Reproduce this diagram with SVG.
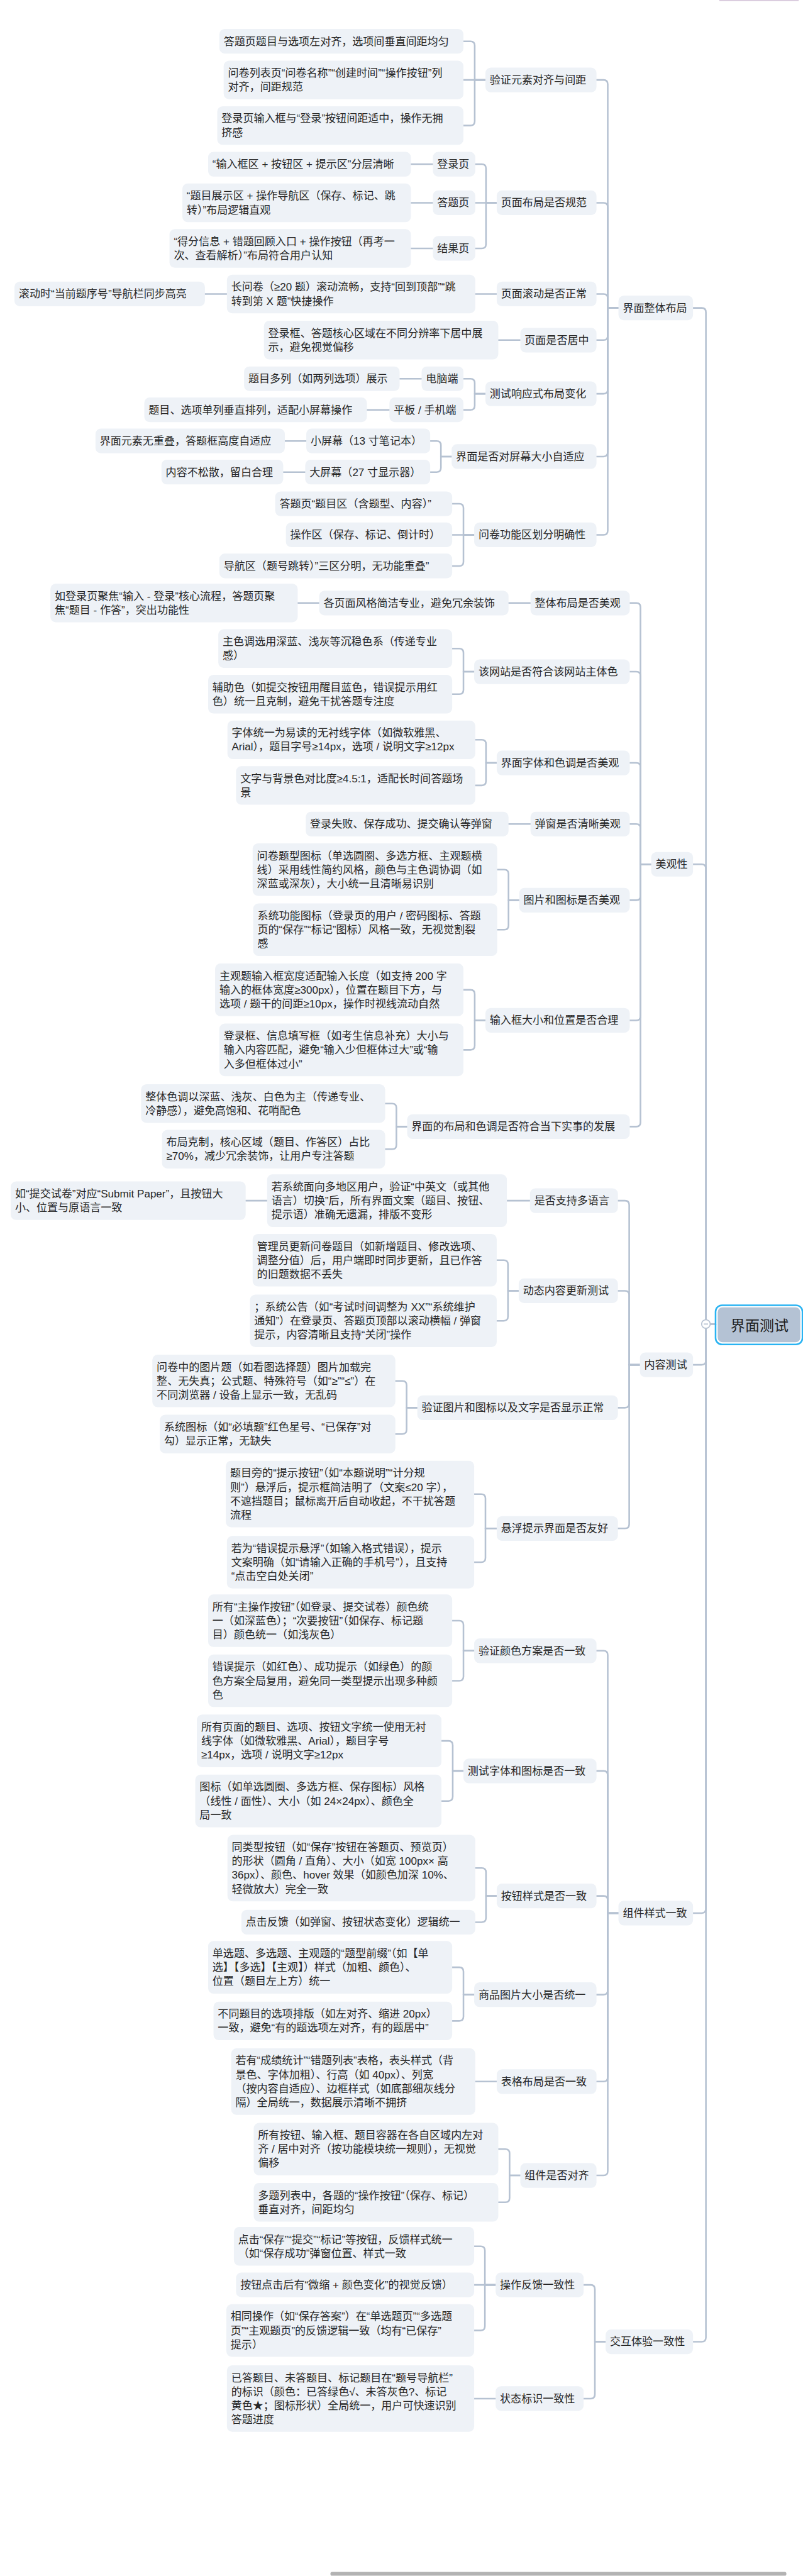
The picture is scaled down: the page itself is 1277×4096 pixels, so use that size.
<svg xmlns="http://www.w3.org/2000/svg" width="1277" height="4096" viewBox="0 0 1277 4096">
<defs>
<style>
.box{fill:#eef2f7}
.t{font-family:"Liberation Sans","Noto Sans CJK SC",sans-serif;font-size:20px;fill:#262626}
.lk path{fill:none;stroke:#b6c2d2;stroke-width:3;stroke-linejoin:round;stroke-linecap:round}
.rt{font-family:"Liberation Sans","Noto Sans CJK SC",sans-serif;font-size:27px;fill:#1f1f1f;text-anchor:middle}
</style>
</defs>
<rect width="1277" height="4096" fill="#ffffff"/>
<g transform="scale(0.85304)">
<g id="connectors" class="lk">
<path d="M1334 2468 H1316 V582 Q1316 574 1308 574 H1292"/>
<path d="M1334 2468 H1316 V1619 Q1316 1611 1308 1611 H1292"/>
<path d="M1334 2468 H1316 V2536 Q1316 2544 1308 2544 H1292"/>
<path d="M1334 2468 H1316 V3558 Q1316 3566 1308 3566 H1292"/>
<path d="M1334 2468 H1316 V4357 Q1316 4365 1308 4365 H1292"/>
<path d="M1153 574 H1133 V157 Q1133 149 1125 149 H1112"/>
<path d="M1153 574 H1133 V386 Q1133 378 1125 378 H1112"/>
<path d="M1153 574 H1133 V556 Q1133 548 1125 548 H1112"/>
<path d="M1153 574 H1133 V626 Q1133 634 1125 634 H1112"/>
<path d="M1153 574 H1133 V726 Q1133 734 1125 734 H1112"/>
<path d="M1153 574 H1133 V843 Q1133 851 1125 851 H1112"/>
<path d="M1153 574 H1133 V989 Q1133 997 1125 997 H1112"/>
<path d="M905 149 H885 V85 Q885 77 877 77 H864"/>
<path d="M905 149 H864"/>
<path d="M905 149 H885 V226 Q885 234 877 234 H864"/>
<path d="M926 378 H906 V314 Q906 306 898 306 H886"/>
<path d="M926 378 H886"/>
<path d="M926 378 H906 V455 Q906 463 898 463 H886"/>
<path d="M807 306 H766"/>
<path d="M807 378 H766"/>
<path d="M807 463 H766"/>
<path d="M926 548 H886"/>
<path d="M423 548 H382"/>
<path d="M970 634 H929"/>
<path d="M905 734 H885 V714 Q885 706 877 706 H864"/>
<path d="M905 734 H885 V756 Q885 764 877 764 H864"/>
<path d="M786 706 H745"/>
<path d="M726 764 H684"/>
<path d="M842 851 H822 V830 Q822 822 814 822 H802"/>
<path d="M842 851 H822 V872 Q822 880 814 880 H802"/>
<path d="M571 822 H531"/>
<path d="M569 880 H528"/>
<path d="M884 997 H864 V947 Q864 939 856 939 H843"/>
<path d="M884 997 H843"/>
<path d="M884 997 H864 V1047 Q864 1055 856 1055 H843"/>
<path d="M1214 1611 H1194 V1132 Q1194 1124 1186 1124 H1174"/>
<path d="M1214 1611 H1194 V1260 Q1194 1252 1186 1252 H1174"/>
<path d="M1214 1611 H1194 V1430 Q1194 1422 1186 1422 H1174"/>
<path d="M1214 1611 H1194 V1544 Q1194 1536 1186 1536 H1174"/>
<path d="M1214 1611 H1194 V1670 Q1194 1678 1186 1678 H1174"/>
<path d="M1214 1611 H1194 V1894 Q1194 1902 1186 1902 H1174"/>
<path d="M1214 1611 H1194 V2092 Q1194 2100 1186 2100 H1174"/>
<path d="M989 1124 H948"/>
<path d="M595 1124 H555"/>
<path d="M884 1252 H864 V1217 Q864 1209 856 1209 H843"/>
<path d="M884 1252 H864 V1286 Q864 1294 856 1294 H843"/>
<path d="M926 1422 H906 V1387 Q906 1379 898 1379 H886"/>
<path d="M926 1422 H906 V1456 Q906 1464 898 1464 H886"/>
<path d="M989 1536 H948"/>
<path d="M968 1678 H948 V1629 Q948 1621 940 1621 H927"/>
<path d="M968 1678 H948 V1725 Q948 1733 940 1733 H927"/>
<path d="M905 1902 H885 V1853 Q885 1845 877 1845 H864"/>
<path d="M905 1902 H885 V1949 Q885 1957 877 1957 H864"/>
<path d="M759 2100 H739 V2065 Q739 2057 731 2057 H718"/>
<path d="M759 2100 H739 V2134 Q739 2142 731 2142 H718"/>
<path d="M1193 2544 H1173 V2246 Q1173 2238 1165 2238 H1152"/>
<path d="M1193 2544 H1173 V2414 Q1173 2406 1165 2406 H1152"/>
<path d="M1193 2544 H1173 V2616 Q1173 2624 1165 2624 H1152"/>
<path d="M1193 2544 H1173 V2841 Q1173 2849 1165 2849 H1152"/>
<path d="M988 2238 H945"/>
<path d="M498 2238 H458"/>
<path d="M967 2406 H947 V2357 Q947 2349 939 2349 H926"/>
<path d="M967 2406 H947 V2454 Q947 2462 939 2462 H926"/>
<path d="M778 2624 H758 V2582 Q758 2574 750 2574 H737"/>
<path d="M778 2624 H758 V2665 Q758 2673 750 2673 H737"/>
<path d="M926 2849 H905 V2793 Q905 2785 897 2785 H884"/>
<path d="M926 2849 H905 V2904 Q905 2912 897 2912 H884"/>
<path d="M1153 3566 H1133 V3085 Q1133 3077 1125 3077 H1112"/>
<path d="M1153 3566 H1133 V3309 Q1133 3301 1125 3301 H1112"/>
<path d="M1153 3566 H1133 V3542 Q1133 3534 1125 3534 H1112"/>
<path d="M1153 3566 H1133 V3710 Q1133 3718 1125 3718 H1112"/>
<path d="M1153 3566 H1133 V3872 Q1133 3880 1125 3880 H1112"/>
<path d="M1153 3566 H1133 V4047 Q1133 4055 1125 4055 H1112"/>
<path d="M884 3077 H864 V3029 Q864 3021 856 3021 H843"/>
<path d="M884 3077 H864 V3125 Q864 3133 856 3133 H843"/>
<path d="M864 3301 H844 V3253 Q844 3245 836 3245 H823"/>
<path d="M864 3301 H844 V3349 Q844 3357 836 3357 H823"/>
<path d="M926 3534 H906 V3490 Q906 3482 898 3482 H886"/>
<path d="M926 3534 H906 V3575 Q906 3583 898 3583 H886"/>
<path d="M884 3718 H864 V3675 Q864 3667 856 3667 H843"/>
<path d="M884 3718 H864 V3759 Q864 3767 856 3767 H843"/>
<path d="M926 3880 H886"/>
<path d="M970 4055 H950 V4014 Q950 4006 942 4006 H929"/>
<path d="M970 4055 H950 V4097 Q950 4105 942 4105 H929"/>
<path d="M1129 4365 H1109 V4267 Q1109 4259 1101 4259 H1088"/>
<path d="M1129 4365 H1109 V4463 Q1109 4471 1101 4471 H1088"/>
<path d="M924 4259 H904 V4195 Q904 4187 896 4187 H884"/>
<path d="M924 4259 H884"/>
<path d="M924 4259 H904 V4336 Q904 4344 896 4344 H884"/>
<path d="M924 4471 H884"/>
</g>
<g id="collapse">
<circle cx="1316" cy="2468" r="8" fill="#ffffff" stroke="#b6c2d2" stroke-width="2"/>
<path d="M1312 2468 H1320" stroke="#b6c2d2" stroke-width="2"/>
</g>
<g id="nodes">
<g id="root"><rect x="1334" y="2433" width="162" height="73" rx="12" fill="none" stroke="#29b3f2" stroke-width="3"/><rect x="1338" y="2437" width="154" height="65" rx="9" fill="#b4c2d4"/><text class="rt" x="1416" y="2480">界面测试</text></g>

<g id="n-layout"><rect class="box" x="1153" y="551" width="139" height="46" rx="10"/><text class="t" x="1161" y="581">界面整体布局</text></g>
<g id="n-beauty"><rect class="box" x="1214" y="1588" width="78" height="46" rx="10"/><text class="t" x="1222" y="1618">美观性</text></g>
<g id="n-content"><rect class="box" x="1193" y="2521" width="99" height="46" rx="10"/><text class="t" x="1201" y="2551">内容测试</text></g>
<g id="n-comp"><rect class="box" x="1153" y="3543" width="139" height="46" rx="10"/><text class="t" x="1161" y="3573">组件样式一致</text></g>
<g id="n-inter"><rect class="box" x="1129" y="4342" width="163" height="46" rx="10"/><text class="t" x="1137" y="4372">交互体验一致性</text></g>

<g id="n-a"><rect class="box" x="905" y="126" width="207" height="46" rx="10"/><text class="t" x="913" y="156">验证元素对齐与间距</text></g>
<g id="n-a1"><rect class="box" x="409" y="54" width="455" height="46" rx="10"/><text class="t" x="417" y="84">答题页题目与选项左对齐，选项间垂直间距均匀</text></g>
<g id="n-a2"><rect class="box" x="417" y="113" width="447" height="72" rx="10"/><text class="t"><tspan x="425" y="143">问卷列表页“问卷名称”“创建时间”“操作按钮”列</tspan><tspan x="425" y="169">对齐，间距规范</tspan></text></g>
<g id="n-a3"><rect class="box" x="405" y="198" width="459" height="72" rx="10"/><text class="t"><tspan x="413" y="228">登录页输入框与“登录”按钮间距适中，操作无拥</tspan><tspan x="413" y="254">挤感</tspan></text></g>

<g id="n-b"><rect class="box" x="926" y="355" width="186" height="46" rx="10"/><text class="t" x="934" y="385">页面布局是否规范</text></g>
<g id="n-b1"><rect class="box" x="807" y="283" width="79" height="46" rx="10"/><text class="t" x="815" y="313">登录页</text></g>
<g id="n-b2"><rect class="box" x="807" y="355" width="79" height="46" rx="10"/><text class="t" x="815" y="385">答题页</text></g>
<g id="n-b3"><rect class="box" x="807" y="440" width="79" height="46" rx="10"/><text class="t" x="815" y="470">结果页</text></g>
<g id="n-b1a"><rect class="box" x="388" y="283" width="378" height="46" rx="10"/><text class="t" x="396" y="313">“输入框区 + 按钮区 + 提示区”分层清晰</text></g>
<g id="n-b2a"><rect class="box" x="340" y="342" width="426" height="72" rx="10"/><text class="t"><tspan x="348" y="372">“题目展示区 + 操作导航区（保存、标记、跳</tspan><tspan x="348" y="398">转）”布局逻辑直观</tspan></text></g>
<g id="n-b3a"><rect class="box" x="316" y="427" width="450" height="72" rx="10"/><text class="t"><tspan x="324" y="457">“得分信息 + 错题回顾入口 + 操作按钮（再考一</tspan><tspan x="324" y="483">次、查看解析）”布局符合用户认知</tspan></text></g>

<g id="n-c"><rect class="box" x="926" y="525" width="186" height="46" rx="10"/><text class="t" x="934" y="555">页面滚动是否正常</text></g>
<g id="n-c1"><rect class="box" x="423" y="512" width="463" height="72" rx="10"/><text class="t"><tspan x="431" y="542">长问卷（≥20 题）滚动流畅，支持“回到顶部”“跳</tspan><tspan x="431" y="568">转到第 X 题”快捷操作</tspan></text></g>
<g id="n-c1a"><rect class="box" x="27" y="525" width="355" height="46" rx="10"/><text class="t" x="35" y="555">滚动时“当前题序号”导航栏同步高亮</text></g>

<g id="n-d"><rect class="box" x="970" y="611" width="142" height="46" rx="10"/><text class="t" x="978" y="641">页面是否居中</text></g>
<g id="n-d1"><rect class="box" x="492" y="598" width="437" height="72" rx="10"/><text class="t"><tspan x="500" y="628">登录框、答题核心区域在不同分辨率下居中展</tspan><tspan x="500" y="654">示，避免视觉偏移</tspan></text></g>

<g id="n-e"><rect class="box" x="905" y="711" width="207" height="46" rx="10"/><text class="t" x="913" y="741">测试响应式布局变化</text></g>
<g id="n-e1"><rect class="box" x="786" y="683" width="78" height="46" rx="10"/><text class="t" x="794" y="713">电脑端</text></g>
<g id="n-e2"><rect class="box" x="726" y="741" width="138" height="46" rx="10"/><text class="t" x="734" y="771">平板 / 手机端</text></g>
<g id="n-e1a"><rect class="box" x="455" y="683" width="290" height="46" rx="10"/><text class="t" x="463" y="713">题目多列（如两列选项）展示</text></g>
<g id="n-e2a"><rect class="box" x="269" y="741" width="415" height="46" rx="10"/><text class="t" x="277" y="771">题目、选项单列垂直排列，适配小屏幕操作</text></g>

<g id="n-f"><rect class="box" x="842" y="828" width="270" height="46" rx="10"/><text class="t" x="850" y="858">界面是否对屏幕大小自适应</text></g>
<g id="n-f1"><rect class="box" x="571" y="799" width="231" height="46" rx="10"/><text class="t" x="579" y="829">小屏幕（13 寸笔记本）</text></g>
<g id="n-f2"><rect class="box" x="569" y="857" width="233" height="46" rx="10"/><text class="t" x="577" y="887">大屏幕（27 寸显示器）</text></g>
<g id="n-f1a"><rect class="box" x="178" y="799" width="353" height="46" rx="10"/><text class="t" x="186" y="829">界面元素无重叠，答题框高度自适应</text></g>
<g id="n-f2a"><rect class="box" x="301" y="857" width="227" height="46" rx="10"/><text class="t" x="309" y="887">内容不松散，留白合理</text></g>

<g id="n-g"><rect class="box" x="884" y="974" width="228" height="46" rx="10"/><text class="t" x="892" y="1004">问卷功能区划分明确性</text></g>
<g id="n-g1"><rect class="box" x="513" y="916" width="330" height="46" rx="10"/><text class="t" x="521" y="946">答题页“题目区（含题型、内容）”</text></g>
<g id="n-g2"><rect class="box" x="533" y="974" width="310" height="46" rx="10"/><text class="t" x="541" y="1004">操作区（保存、标记、倒计时）</text></g>
<g id="n-g3"><rect class="box" x="409" y="1032" width="434" height="46" rx="10"/><text class="t" x="417" y="1062">导航区（题号跳转）”三区分明，无功能重叠”</text></g>

<g id="n-h"><rect class="box" x="989" y="1101" width="185" height="46" rx="10"/><text class="t" x="997" y="1131">整体布局是否美观</text></g>
<g id="n-h1"><rect class="box" x="595" y="1101" width="353" height="46" rx="10"/><text class="t" x="603" y="1131">各页面风格简洁专业，避免冗余装饰</text></g>
<g id="n-h1a"><rect class="box" x="94" y="1088" width="461" height="72" rx="10"/><text class="t"><tspan x="102" y="1118">如登录页聚焦“输入 - 登录”核心流程，答题页聚</tspan><tspan x="102" y="1144">焦“题目 - 作答”，突出功能性</tspan></text></g>

<g id="n-i"><rect class="box" x="884" y="1229" width="290" height="46" rx="10"/><text class="t" x="892" y="1259">该网站是否符合该网站主体色</text></g>
<g id="n-i1"><rect class="box" x="407" y="1173" width="436" height="72" rx="10"/><text class="t"><tspan x="415" y="1203">主色调选用深蓝、浅灰等沉稳色系（传递专业</tspan><tspan x="415" y="1229">感）</tspan></text></g>
<g id="n-i2"><rect class="box" x="388" y="1258" width="455" height="72" rx="10"/><text class="t"><tspan x="396" y="1288">辅助色（如提交按钮用醒目蓝色，错误提示用红</tspan><tspan x="396" y="1314">色）统一且克制，避免干扰答题专注度</tspan></text></g>

<g id="n-j"><rect class="box" x="926" y="1399" width="248" height="46" rx="10"/><text class="t" x="934" y="1429">界面字体和色调是否美观</text></g>
<g id="n-j1"><rect class="box" x="424" y="1343" width="462" height="72" rx="10"/><text class="t"><tspan x="432" y="1373">字体统一为易读的无衬线字体（如微软雅黑、</tspan><tspan x="432" y="1399">Arial），题目字号≥14px，选项 / 说明文字≥12px</tspan></text></g>
<g id="n-j2"><rect class="box" x="440" y="1428" width="446" height="72" rx="10"/><text class="t"><tspan x="448" y="1458">文字与背景色对比度≥4.5:1，适配长时间答题场</tspan><tspan x="448" y="1484">景</tspan></text></g>

<g id="n-k"><rect class="box" x="989" y="1513" width="185" height="46" rx="10"/><text class="t" x="997" y="1543">弹窗是否清晰美观</text></g>
<g id="n-k1"><rect class="box" x="570" y="1513" width="378" height="46" rx="10"/><text class="t" x="578" y="1543">登录失败、保存成功、提交确认等弹窗</text></g>

<g id="n-l"><rect class="box" x="968" y="1655" width="206" height="46" rx="10"/><text class="t" x="976" y="1685">图片和图标是否美观</text></g>
<g id="n-l1"><rect class="box" x="471" y="1572" width="456" height="98" rx="10"/><text class="t"><tspan x="479" y="1602">问卷题型图标（单选圆圈、多选方框、主观题横</tspan><tspan x="479" y="1628">线）采用线性简约风格，颜色与主色调协调（如</tspan><tspan x="479" y="1654">深蓝或深灰），大小统一且清晰易识别</tspan></text></g>
<g id="n-l2"><rect class="box" x="472" y="1684" width="455" height="98" rx="10"/><text class="t"><tspan x="480" y="1714">系统功能图标（登录页的用户 / 密码图标、答题</tspan><tspan x="480" y="1740">页的“保存”“标记”图标）风格一致，无视觉割裂</tspan><tspan x="480" y="1766">感</tspan></text></g>

<g id="n-m"><rect class="box" x="905" y="1879" width="269" height="46" rx="10"/><text class="t" x="913" y="1909">输入框大小和位置是否合理</text></g>
<g id="n-m1"><rect class="box" x="401" y="1796" width="463" height="98" rx="10"/><text class="t"><tspan x="409" y="1826">主观题输入框宽度适配输入长度（如支持 200 字</tspan><tspan x="409" y="1852">输入的框体宽度≥300px），位置在题目下方，与</tspan><tspan x="409" y="1878">选项 / 题干的间距≥10px，操作时视线流动自然</tspan></text></g>
<g id="n-m2"><rect class="box" x="409" y="1908" width="455" height="98" rx="10"/><text class="t"><tspan x="417" y="1938">登录框、信息填写框（如考生信息补充）大小与</tspan><tspan x="417" y="1964">输入内容匹配，避免“输入少但框体过大”或“输</tspan><tspan x="417" y="1990">入多但框体过小”</tspan></text></g>

<g id="n-n"><rect class="box" x="759" y="2077" width="415" height="46" rx="10"/><text class="t" x="767" y="2107">界面的布局和色调是否符合当下实事的发展</text></g>
<g id="n-n1"><rect class="box" x="263" y="2021" width="455" height="72" rx="10"/><text class="t"><tspan x="271" y="2051">整体色调以深蓝、浅灰、白色为主（传递专业、</tspan><tspan x="271" y="2077">冷静感），避免高饱和、花哨配色</tspan></text></g>
<g id="n-n2"><rect class="box" x="302" y="2106" width="416" height="72" rx="10"/><text class="t"><tspan x="310" y="2136">布局克制，核心区域（题目、作答区）占比</tspan><tspan x="310" y="2162">≥70%，减少冗余装饰，让用户专注答题</tspan></text></g>

<g id="n-o"><rect class="box" x="988" y="2215" width="164" height="46" rx="10"/><text class="t" x="996" y="2245">是否支持多语言</text></g>
<g id="n-o1"><rect class="box" x="498" y="2189" width="447" height="98" rx="10"/><text class="t"><tspan x="506" y="2219">若系统面向多地区用户，验证“中英文（或其他</tspan><tspan x="506" y="2245">语言）切换”后，所有界面文案（题目、按钮、</tspan><tspan x="506" y="2271">提示语）准确无遗漏，排版不变形</tspan></text></g>
<g id="n-o1a"><rect class="box" x="20" y="2202" width="438" height="72" rx="10"/><text class="t"><tspan x="28" y="2232">如“提交试卷”对应“Submit Paper”，且按钮大</tspan><tspan x="28" y="2258">小、位置与原语言一致</tspan></text></g>

<g id="n-p"><rect class="box" x="967" y="2383" width="185" height="46" rx="10"/><text class="t" x="975" y="2413">动态内容更新测试</text></g>
<g id="n-p1"><rect class="box" x="471" y="2300" width="455" height="98" rx="10"/><text class="t"><tspan x="479" y="2330">管理员更新问卷题目（如新增题目、修改选项、</tspan><tspan x="479" y="2356">调整分值）后，用户端即时同步更新，且已作答</tspan><tspan x="479" y="2382">的旧题数据不丢失</tspan></text></g>
<g id="n-p2"><rect class="box" x="466" y="2413" width="460" height="98" rx="10"/><text class="t"><tspan x="474" y="2443">；系统公告（如“考试时间调整为 XX”“系统维护</tspan><tspan x="474" y="2469">通知”）在登录页、答题页顶部以滚动横幅 / 弹窗</tspan><tspan x="474" y="2495">提示，内容清晰且支持“关闭”操作</tspan></text></g>

<g id="n-q"><rect class="box" x="778" y="2601" width="374" height="46" rx="10"/><text class="t" x="786" y="2631">验证图片和图标以及文字是否显示正常</text></g>
<g id="n-q1"><rect class="box" x="284" y="2525" width="453" height="98" rx="10"/><text class="t"><tspan x="292" y="2555">问卷中的图片题（如看图选择题）图片加载完</tspan><tspan x="292" y="2581">整、无失真；公式题、特殊符号（如“≥”“≤”）在</tspan><tspan x="292" y="2607">不同浏览器 / 设备上显示一致，无乱码</tspan></text></g>
<g id="n-q2"><rect class="box" x="298" y="2637" width="439" height="72" rx="10"/><text class="t"><tspan x="306" y="2667">系统图标（如“必填题”红色星号、“已保存”对</tspan><tspan x="306" y="2693">勾）显示正常，无缺失</tspan></text></g>

<g id="n-r"><rect class="box" x="926" y="2826" width="226" height="46" rx="10"/><text class="t" x="934" y="2856">悬浮提示界面是否友好</text></g>
<g id="n-r1"><rect class="box" x="421" y="2723" width="463" height="124" rx="10"/><text class="t"><tspan x="429" y="2753">题目旁的“提示按钮”（如“本题说明”“计分规</tspan><tspan x="429" y="2779">则”）悬浮后，提示框简洁明了（文案≤20 字），</tspan><tspan x="429" y="2805">不遮挡题目；鼠标离开后自动收起，不干扰答题</tspan><tspan x="429" y="2831">流程</tspan></text></g>
<g id="n-r2"><rect class="box" x="423" y="2863" width="461" height="98" rx="10"/><text class="t"><tspan x="431" y="2893">若为“错误提示悬浮”（如输入格式错误），提示</tspan><tspan x="431" y="2919">文案明确（如“请输入正确的手机号”），且支持</tspan><tspan x="431" y="2945">“点击空白处关闭”</tspan></text></g>

<g id="n-s"><rect class="box" x="884" y="3054" width="228" height="46" rx="10"/><text class="t" x="892" y="3084">验证颜色方案是否一致</text></g>
<g id="n-s1"><rect class="box" x="388" y="2972" width="455" height="98" rx="10"/><text class="t"><tspan x="396" y="3002">所有“主操作按钮”（如登录、提交试卷）颜色统</tspan><tspan x="396" y="3028">一（如深蓝色）；“次要按钮”（如保存、标记题</tspan><tspan x="396" y="3054">目）颜色统一（如浅灰色）</tspan></text></g>
<g id="n-s2"><rect class="box" x="388" y="3084" width="455" height="98" rx="10"/><text class="t"><tspan x="396" y="3114">错误提示（如红色）、成功提示（如绿色）的颜</tspan><tspan x="396" y="3140">色方案全局复用，避免同一类型提示出现多种颜</tspan><tspan x="396" y="3166">色</tspan></text></g>

<g id="n-t"><rect class="box" x="864" y="3278" width="248" height="46" rx="10"/><text class="t" x="872" y="3308">测试字体和图标是否一致</text></g>
<g id="n-t1"><rect class="box" x="367" y="3196" width="456" height="98" rx="10"/><text class="t"><tspan x="375" y="3226">所有页面的题目、选项、按钮文字统一使用无衬</tspan><tspan x="375" y="3252">线字体（如微软雅黑、Arial），题目字号</tspan><tspan x="375" y="3278">≥14px，选项 / 说明文字≥12px</tspan></text></g>
<g id="n-t2"><rect class="box" x="364" y="3308" width="459" height="98" rx="10"/><text class="t"><tspan x="372" y="3338">图标（如单选圆圈、多选方框、保存图标）风格</tspan><tspan x="372" y="3364">（线性 / 面性）、大小（如 24×24px）、颜色全</tspan><tspan x="372" y="3390">局一致</tspan></text></g>

<g id="n-u"><rect class="box" x="926" y="3511" width="186" height="46" rx="10"/><text class="t" x="934" y="3541">按钮样式是否一致</text></g>
<g id="n-u1"><rect class="box" x="424" y="3420" width="462" height="124" rx="10"/><text class="t"><tspan x="432" y="3450">同类型按钮（如“保存”按钮在答题页、预览页）</tspan><tspan x="432" y="3476">的形状（圆角 / 直角）、大小（如宽 100px× 高</tspan><tspan x="432" y="3502">36px）、颜色、hover 效果（如颜色加深 10%、</tspan><tspan x="432" y="3528">轻微放大）完全一致</tspan></text></g>
<g id="n-u2"><rect class="box" x="450" y="3560" width="436" height="46" rx="10"/><text class="t" x="458" y="3590">点击反馈（如弹窗、按钮状态变化）逻辑统一</text></g>

<g id="n-v"><rect class="box" x="884" y="3695" width="228" height="46" rx="10"/><text class="t" x="892" y="3725">商品图片大小是否统一</text></g>
<g id="n-v1"><rect class="box" x="388" y="3618" width="455" height="98" rx="10"/><text class="t"><tspan x="396" y="3648">单选题、多选题、主观题的“题型前缀”（如【单</tspan><tspan x="396" y="3674">选】【多选】【主观】）样式（加粗、颜色）、</tspan><tspan x="396" y="3700">位置（题目左上方）统一</tspan></text></g>
<g id="n-v2"><rect class="box" x="398" y="3731" width="445" height="72" rx="10"/><text class="t"><tspan x="406" y="3761">不同题目的选项排版（如左对齐、缩进 20px）</tspan><tspan x="406" y="3787">一致，避免“有的题选项左对齐，有的题居中”</tspan></text></g>

<g id="n-w"><rect class="box" x="926" y="3857" width="186" height="46" rx="10"/><text class="t" x="934" y="3887">表格布局是否一致</text></g>
<g id="n-w1"><rect class="box" x="431" y="3818" width="455" height="124" rx="10"/><text class="t"><tspan x="439" y="3848">若有“成绩统计”“错题列表”表格，表头样式（背</tspan><tspan x="439" y="3874">景色、字体加粗）、行高（如 40px）、列宽</tspan><tspan x="439" y="3900">（按内容自适应）、边框样式（如底部细灰线分</tspan><tspan x="439" y="3926">隔）全局统一，数据展示清晰不拥挤</tspan></text></g>

<g id="n-x"><rect class="box" x="970" y="4032" width="142" height="46" rx="10"/><text class="t" x="978" y="4062">组件是否对齐</text></g>
<g id="n-x1"><rect class="box" x="473" y="3957" width="456" height="98" rx="10"/><text class="t"><tspan x="481" y="3987">所有按钮、输入框、题目容器在各自区域内左对</tspan><tspan x="481" y="4013">齐 / 居中对齐（按功能模块统一规则），无视觉</tspan><tspan x="481" y="4039">偏移</tspan></text></g>
<g id="n-x2"><rect class="box" x="473" y="4069" width="456" height="72" rx="10"/><text class="t"><tspan x="481" y="4099">多题列表中，各题的“操作按钮”（保存、标记）</tspan><tspan x="481" y="4125">垂直对齐，间距均匀</tspan></text></g>

<g id="n-y"><rect class="box" x="924" y="4236" width="164" height="46" rx="10"/><text class="t" x="932" y="4266">操作反馈一致性</text></g>
<g id="n-y1"><rect class="box" x="436" y="4151" width="448" height="72" rx="10"/><text class="t"><tspan x="444" y="4181">点击“保存”“提交”“标记”等按钮，反馈样式统一</tspan><tspan x="444" y="4207">（如“保存成功”弹窗位置、样式一致</tspan></text></g>
<g id="n-y2"><rect class="box" x="440" y="4236" width="444" height="46" rx="10"/><text class="t" x="448" y="4266">按钮点击后有“微缩 + 颜色变化”的视觉反馈）</text></g>
<g id="n-y3"><rect class="box" x="422" y="4295" width="462" height="98" rx="10"/><text class="t"><tspan x="430" y="4325">相同操作（如“保存答案”）在“单选题页”“多选题</tspan><tspan x="430" y="4351">页”“主观题页”的反馈逻辑一致（均有“已保存”</tspan><tspan x="430" y="4377">提示）</tspan></text></g>

<g id="n-z"><rect class="box" x="924" y="4448" width="164" height="46" rx="10"/><text class="t" x="932" y="4478">状态标识一致性</text></g>
<g id="n-z1"><rect class="box" x="423" y="4409" width="461" height="124" rx="10"/><text class="t"><tspan x="431" y="4439">已答题目、未答题目、标记题目在“题号导航栏”</tspan><tspan x="431" y="4465">的标识（颜色：已答绿色√、未答灰色?、标记</tspan><tspan x="431" y="4491">黄色★；图标形状）全局统一，用户可快速识别</tspan><tspan x="431" y="4517">答题进度</tspan></text></g>
</g>
<rect x="1341" y="0" width="148" height="2" fill="#d8c9dc"/>
<rect x="616" y="4794" width="850" height="7" rx="3" fill="#b3b3b3"/>
</g>
</svg>
